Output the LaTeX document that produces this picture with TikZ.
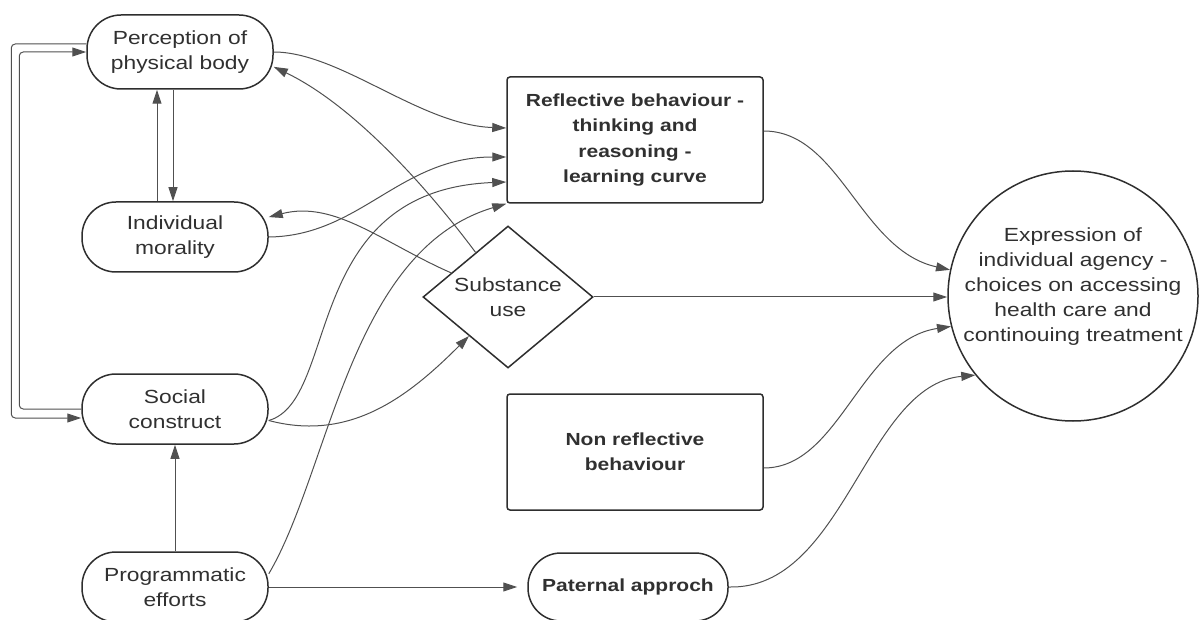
\documentclass[tikz,border=0pt]{standalone}
\usepackage{fontspec}
\setmainfont{Liberation Sans}[FakeStretch=1.2]
\usetikzlibrary{arrows.meta,shapes.geometric}
\definecolor{edgeline}{HTML}{2E2E2E}
\definecolor{linkline}{HTML}{505050}
\definecolor{txt}{HTML}{303030}
\tikzset{
  base/.style={draw=edgeline, line width=1.5pt, text=txt, align=center, inner sep=0pt},
  regular/.style={font=\fontsize{19}{25}\selectfont},
  strong/.style={font=\fontsize{17.5}{25.3}\selectfont\bfseries},
  stadium/.style={base, regular, rounded corners=34pt, minimum width=186pt, minimum height=70pt},
  boxed/.style={base, strong, rounded corners=3pt, minimum width=256pt},
  pill/.style={base, strong, rounded corners=33pt, minimum width=200pt, minimum height=68pt},
  link/.style={draw=linkline, line width=1pt, -{Triangle[length=14pt,width=9pt]}},
}
\begin{document}
\begin{tikzpicture}[x=1pt,y=1pt]
\useasboundingbox (0,0) rectangle (1199,-620);

% left column
\node[stadium, minimum height=74pt] (perc)   at (180,-52)  {Perception of\\physical body};
\node[stadium] (moral)  at (175,-237) {Individual\\morality};
\node[stadium] (social) at (175,-409) {Social\\construct};
\node[stadium] (prog)   at (175,-587) {Programmatic\\efforts};

% middle column
\node[boxed, minimum height=126pt] (refl)    at (635,-140) {Reflective behaviour -\\thinking and\\reasoning -\\learning curve};
\node[boxed, minimum height=116pt] (nonrefl) at (635,-452) {Non reflective\\behaviour};
\node[pill] (patern) at (628,-587) {Paternal approch};
\node[base, diamond, minimum width=170pt, minimum height=142pt] (subst) at (508,-297) {};
\node[regular, text=txt, align=center] (substlabel) at (508,-297) {Substance\\use};

% outcome
\node[base, circle, minimum size=250pt] (circ) at (1073,-296) {};
\node[regular, text=txt, align=center] (circlabel) at (1073,-287)
  {Expression of\\individual agency -\\choices on accessing\\health care and\\continouing treatment};

% feedback loop on the left
\draw[link, rounded corners=4pt] ([yshift=8]perc.west) -- ++(-75,0) |- ([yshift=-9]social.west);
\draw[link, rounded corners=4pt] (social.west) -- ++(-62,0) |- (perc.west);

% vertical links
\draw[link] ([xshift=-18]moral.north) -- ([xshift=-18]moral.north |- perc.south);
\draw[link] ([xshift=-7]perc.south) -- ([xshift=-7]perc.south |- moral.north);
\draw[link] (prog.north) -- (social.south);
\draw[link] (prog.east) -- ([xshift=-10]patern.west);

% into reflective behaviour
\draw[link] (perc.east) .. controls (340,-52) and (420,-125) .. ([yshift=12]refl.west);
\draw[link] (moral.east) .. controls (360,-236) and (400,-157) .. ([yshift=-17]refl.west);
\draw[link] (social.-7) .. controls (340,-400) and (300,-190) .. ([yshift=-42]refl.west);
\draw[link] (prog.8) .. controls (330,-470) and (350,-250) .. (refl.south west);

% substance use
\draw[link] (subst.126) .. controls (432,-194) and (357,-107) .. (perc.-9);
\draw[link] (subst.157) .. controls (383,-243) and (335,-200) .. (moral.12);
\draw[link] (social.-7) .. controls (350,-442) and (408,-397) .. (subst.225);
\draw[link] (subst.east) -- (subst.east -| circ.west);

% into the outcome
\draw[link] ([yshift=9]refl.east) .. controls (840,-131) and (860,-250) .. (circ.168);
\draw[link] ([yshift=-16]nonrefl.east) .. controls (840,-468) and (860,-340) .. (circ.194);
\draw[link] (patern.east) .. controls (845,-590) and (865,-385) .. (circ.219);
\end{tikzpicture}
\end{document}
